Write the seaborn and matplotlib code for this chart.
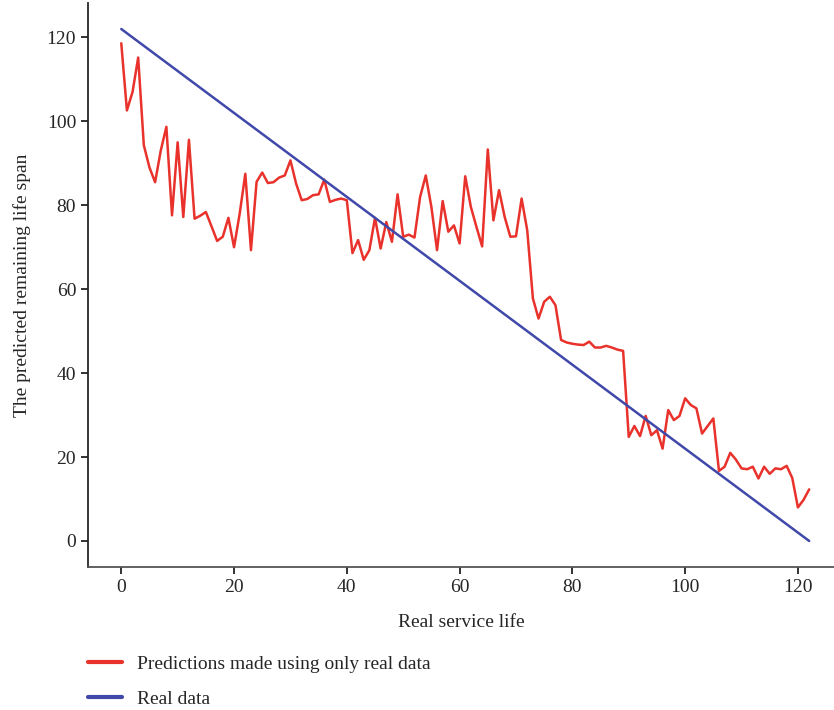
import numpy as np
import pandas as pd
import matplotlib
matplotlib.use('Agg')
import matplotlib.pyplot as plt
import seaborn as sns
from matplotlib.lines import Line2D

# predicted remaining life, one point per unit of service life
service_life = list(range(0, 123))
predicted = [118.6, 102.6, 107, 115.2, 94.3, 89, 85.5, 93, 98.7, 77.6,
             95, 77.2, 95.6, 76.8, 77.5, 78.4, 75, 71.5, 72.5, 77,
             70, 78, 87.5, 69.3, 85.6, 87.8, 85.3, 85.5, 86.6, 87.1,
             90.7, 85.2, 81.2, 81.5, 82.4, 82.6, 86.1, 80.8, 81.3, 81.6,
             81.2, 68.6, 71.7, 67, 69.3, 77, 69.7, 76, 71.3, 82.6,
             72.5, 73, 72.3, 82, 87.1, 79.6, 69.3, 81, 73.7, 75.2,
             70.9, 86.9, 79.6, 74.8, 70.2, 93.3, 76.4, 83.6, 77.2, 72.5,
             72.6, 81.6, 74, 57.8, 53, 57, 58.2, 56.2, 47.9, 47.3,
             47, 46.8, 46.7, 47.5, 46.1, 46.1, 46.5, 46.1, 45.6, 45.3,
             24.8, 27.4, 25, 29.8, 25.2, 26.4, 22, 31.2, 28.8, 29.8,
             34, 32.4, 31.6, 25.6, 27.4, 29.2, 16.7, 17.7, 21, 19.4,
             17.3, 17.1, 17.7, 14.9, 17.7, 16, 17.3, 17.1, 17.9, 15,
             8, 9.8, 12.3]

# real remaining life is a straight line between these two points
real_x = [0, 122]
real_y = [122, 0]

x_ticks = [0, 20, 40, 60, 80, 100, 120]
y_ticks = [0, 20, 40, 60, 80, 100, 120]

red = '#e8322b'
blue = '#4048aa'

sns.set_style('ticks')
plt.rcParams['font.family'] = ['Liberation Serif', 'DejaVu Serif']

pred_df = pd.DataFrame({'life': service_life, 'pred': predicted})
real_df = pd.DataFrame({'life': real_x, 'real': real_y})

fig = plt.figure(figsize=(8.34, 7.10), dpi=100)
ax = fig.add_axes([88/834, 143/710, 1 - 88/834, (567 - 3)/710])

sns.lineplot(data=pred_df, x='life', y='pred', ax=ax, color=red, linewidth=1.8)
sns.lineplot(data=real_df, x='life', y='real', ax=ax, color=blue, linewidth=1.8)

ax.set_xlim(-5.9, 126.4)
ax.set_ylim(-6.2, 128.2)
ax.set_xticks(x_ticks)
ax.set_yticks(y_ticks)
ax.tick_params(labelsize=14, length=5, width=1.3, color='#222222')
for side in ['top', 'right']:
    ax.spines[side].set_visible(False)
ax.spines['left'].set_linewidth(1.3)
ax.spines['bottom'].set_linewidth(1.3)
ax.spines['bottom'].set_color('#555555')

ax.set_xlabel('Real service life', fontsize=14, labelpad=13)
ax.set_ylabel('The predicted remaining life span', fontsize=14, labelpad=11)

# legend under the plot
handles = [Line2D([], [], color=red, linewidth=3),
           Line2D([], [], color=blue, linewidth=3)]
fig.legend(handles, ['Predictions made using only real data', 'Real data'],
           loc='upper left', bbox_to_anchor=(88/834, 1 - 655/710), frameon=False,
           borderaxespad=0, borderpad=0,
           fontsize=14, handlelength=1.75, handletextpad=0.75, labelspacing=0.92)

fig.savefig('out.png', dpi=100)
